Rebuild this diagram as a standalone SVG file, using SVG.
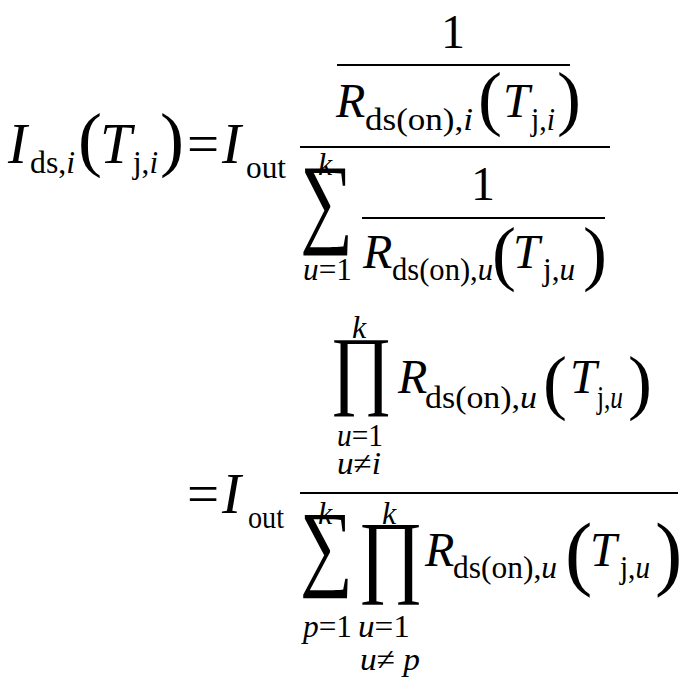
<svg xmlns="http://www.w3.org/2000/svg" width="688" height="682" viewBox="0 0 688 682">
<style>
text{font-family:"Liberation Serif","Times New Roman",serif;fill:#000}
.L{font-size:57px}.m{font-size:48px}.s{font-size:32px}.p{font-size:72px}
.i{font-style:italic}
line{stroke:#000;stroke-width:2}
</style>
<rect width="688" height="682" fill="#fff"/>
<g id="line1">
<text class="L i" x="8" y="163">I</text>
<text class="s" x="30" y="173" textLength="45" lengthAdjust="spacingAndGlyphs">ds,<tspan class="i">i</tspan></text>
<text class="p" x="78" y="163">(</text>
<text class="L i" x="100" y="163">T</text>
<text class="s" x="133" y="173" textLength="25" lengthAdjust="spacingAndGlyphs">j,<tspan class="i">i</tspan></text>
<text class="p" x="160" y="163">)</text>
<text class="L" x="187" y="163">=</text>
<text class="L i" x="222" y="163">I</text>
<text class="s" x="246" y="178" textLength="40" lengthAdjust="spacingAndGlyphs">out</text>
<text class="m" x="441" y="48">1</text>
<line x1="337" y1="65" x2="570" y2="65"/>
<text class="m i" x="336" y="117">R</text>
<text class="s" x="365" y="130" textLength="108" lengthAdjust="spacingAndGlyphs">ds(on),<tspan class="i">i</tspan></text>
<text class="p" x="478" y="122">(</text>
<text class="m i" x="503" y="117">T</text>
<text class="s" x="531" y="130" textLength="24" lengthAdjust="spacingAndGlyphs">j,<tspan class="i">i</tspan></text>
<text class="p" x="557" y="122">)</text>
<line x1="300" y1="147" x2="610" y2="147"/>
<text x="300" y="234" style="font-size:100px" textLength="53" lengthAdjust="spacingAndGlyphs">∑</text>
<text class="s i" x="318" y="175">k</text>
<text class="s" x="303" y="280" textLength="49" lengthAdjust="spacingAndGlyphs"><tspan class="i">u</tspan>=1</text>
<text class="m" x="471" y="200">1</text>
<line x1="362" y1="218" x2="605" y2="218"/>
<text class="m i" x="363" y="268">R</text>
<text class="s" x="392" y="280" textLength="101" lengthAdjust="spacingAndGlyphs">ds(on),<tspan class="i">u</tspan></text>
<text class="p" x="492" y="277">(</text>
<text class="m i" x="513" y="268">T</text>
<text class="s" x="543" y="280" textLength="32" lengthAdjust="spacingAndGlyphs">j,<tspan class="i">u</tspan></text>
<text class="p" x="583" y="277">)</text>
</g>
<g id="line2">
<text x="330" y="398" style="font-size:88px" textLength="62" lengthAdjust="spacingAndGlyphs">∏</text>
<text class="s i" x="352" y="338">k</text>
<text class="s" x="337" y="446" textLength="46" lengthAdjust="spacingAndGlyphs"><tspan class="i">u</tspan>=1</text>
<text class="s" x="337" y="474" textLength="44" lengthAdjust="spacingAndGlyphs"><tspan class="i">u</tspan>≠<tspan class="i">i</tspan></text>
<text class="m i" x="398" y="393">R</text>
<text class="s" x="425" y="408" textLength="112" lengthAdjust="spacingAndGlyphs">ds(on),<tspan class="i">u</tspan></text>
<text class="p" x="543" y="406">(</text>
<text class="m i" x="570" y="393">T</text>
<text class="s" x="597" y="408" textLength="26" lengthAdjust="spacingAndGlyphs">j,<tspan class="i">u</tspan></text>
<text class="p" x="628" y="406">)</text>
<text class="L" x="187" y="513">=</text>
<text class="L i" x="222" y="513">I</text>
<text class="s" x="248" y="528" textLength="36" lengthAdjust="spacingAndGlyphs">out</text>
<line x1="300" y1="493" x2="678" y2="493"/>
<text x="300" y="578" style="font-size:96px" textLength="53" lengthAdjust="spacingAndGlyphs">∑</text>
<text class="s i" x="318" y="524">k</text>
<text class="s" x="303" y="637" textLength="49" lengthAdjust="spacingAndGlyphs"><tspan class="i">p</tspan>=1</text>
<text x="358" y="585" style="font-size:92px" textLength="65" lengthAdjust="spacingAndGlyphs">∏</text>
<text class="s i" x="382" y="524">k</text>
<text class="s" x="358" y="637" textLength="52" lengthAdjust="spacingAndGlyphs"><tspan class="i">u</tspan>=1</text>
<text class="s" x="360" y="670" textLength="60" lengthAdjust="spacingAndGlyphs"><tspan class="i">u</tspan>≠ <tspan class="i">p</tspan></text>
<text class="m i" x="425" y="566">R</text>
<text class="s" x="453" y="578" textLength="104" lengthAdjust="spacingAndGlyphs">ds(on),<tspan class="i">u</tspan></text>
<text class="p" x="565" y="580" style="font-size:82px">(</text>
<text class="m i" x="590" y="566">T</text>
<text class="s" x="620" y="578" textLength="30" lengthAdjust="spacingAndGlyphs">j,<tspan class="i">u</tspan></text>
<text class="p" x="655" y="580" style="font-size:82px">)</text>
</g>
</svg>
